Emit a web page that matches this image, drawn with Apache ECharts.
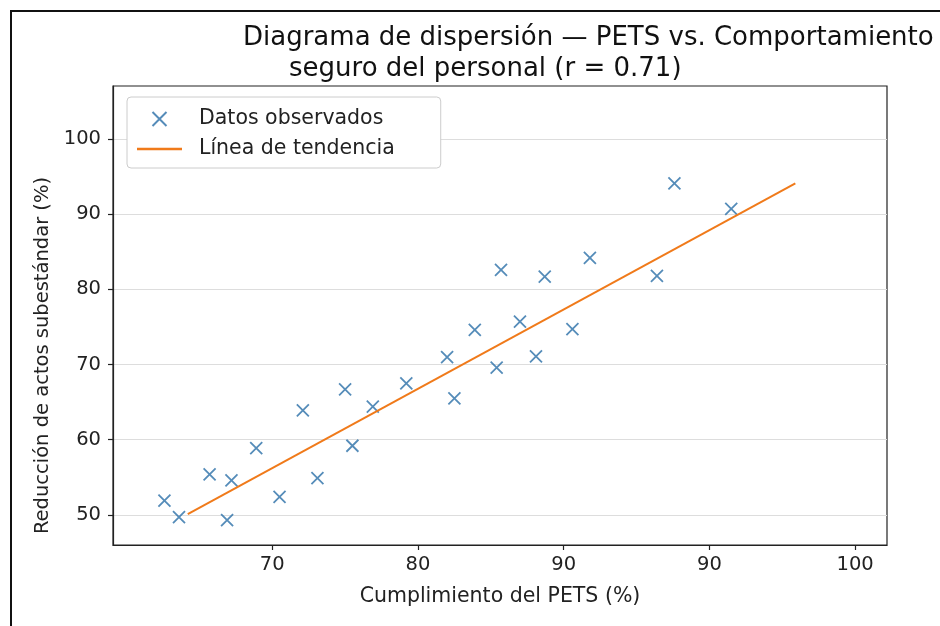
<!DOCTYPE html>
<html><head><meta charset="utf-8">
<script src="https://cdn.jsdelivr.net/npm/echarts@6/dist/echarts.min.js"></script>
<style>html,body{margin:0;padding:0;background:#fff}#c{width:940px;height:626px}</style>
</head><body><div id="c"></div>
<script>
// Observed data (PETS compliance %, reduction of substandard acts %)
const pets = [62.6, 63.6, 65.7, 67.2, 66.9, 68.9, 70.5, 72.1, 73.1, 75.0, 76.9, 75.5, 79.2, 82.5, 82.0, 83.9, 85.4, 85.7, 87.0, 88.1, 88.7, 90.6, 91.8, 96.4, 97.6, 101.5];
const reduccion = [51.9, 49.7, 55.4, 54.6, 49.3, 58.9, 52.4, 63.9, 54.9, 66.7, 64.4, 59.2, 67.5, 65.5, 71.0, 74.6, 69.6, 82.6, 75.7, 71.1, 81.7, 74.7, 84.2, 81.8, 94.1, 90.7];
// Trend line endpoints
const trendX = [64.2, 105.9];
const trendY = [50.1, 94.1];
// Axis ticks
const xTickValues = [70, 80, 90, 100, 110];
const xTickLabels = ['70', '80', '90', '90', '100'];
const yTickValues = [50, 60, 70, 80, 90, 100];
const yTickLabels = ['50', '60', '70', '80', '90', '100'];

const FONT = 'DejaVu Sans';
const INK = '#222';
const BLUE = '#2a6fa8';
const ORANGE = '#f07a1a';
const CROSS = 'path://M0,0L10,10M10,0L0,10';
const LINE_ICON = 'path://M0,0L45,0L45,2.6L0,2.6Z';

const chart = echarts.init(document.getElementById('c'), null, {renderer: 'canvas'});
chart.setOption({
  backgroundColor: '#fff',
  animation: false,
  textStyle: {fontFamily: FONT},
  title: [
    {text: 'Diagrama de dispersión — PETS vs. Comportamiento', left: 238, top: 20,
     textStyle: {fontFamily: FONT, fontSize: 26, fontWeight: 'normal', color: '#111'}},
    {text: 'seguro del personal (r = 0.71)', left: 284, top: 51,
     textStyle: {fontFamily: FONT, fontSize: 26, fontWeight: 'normal', color: '#111'}}
  ],
  graphic: [
    {type: 'rect', silent: true, z: 100,
     shape: {x: 11, y: 11, width: 1200, height: 1200},
     style: {fill: 'none', stroke: '#111', lineWidth: 2}}
  ],
  legend: {
    left: 127, top: 97, orient: 'vertical',
    padding: [11, 46, 8, 10],
    itemWidth: 45, itemHeight: 14, itemGap: 8,
    backgroundColor: '#fff', borderColor: '#cccccc', borderWidth: 1, borderRadius: 4,
    textStyle: {fontFamily: FONT, fontSize: 20.5, color: INK, lineHeight: 22, padding: [0, 0, 0, 12]},
    data: [
      {name: 'Datos observados', icon: CROSS},
      {name: 'Línea de tendencia', icon: LINE_ICON, itemStyle: {color: ORANGE, borderWidth: 0}}
    ]
  },
  grid: {left: 113, right: 53, top: 86, bottom: 81, show: true,
         borderColor: INK, borderWidth: 1.2, backgroundColor: '#fff'},
  xAxis: {
    type: 'value', min: 59.07, max: 112.19,
    axisLine: {show: true, lineStyle: {color: INK, width: 1.2}},
    axisTick: {show: true, length: 5, customValues: xTickValues, lineStyle: {color: INK, width: 1.2}},
    axisLabel: {customValues: xTickValues, margin: 10, fontSize: 19.5, color: INK, fontFamily: FONT,
                formatter: v => xTickLabels[xTickValues.indexOf(v)]},
    splitLine: {show: false},
    name: 'Cumplimiento del PETS (%)', nameLocation: 'middle', nameGap: 41,
    nameTextStyle: {fontSize: 20.5, color: INK, fontFamily: FONT}
  },
  yAxis: {
    type: 'value', min: 46.0, max: 107.05, splitNumber: 6,
    axisLine: {show: true, lineStyle: {color: INK, width: 1.2}},
    axisTick: {show: true, length: 5, customValues: yTickValues, lineStyle: {color: INK, width: 1.2}},
    axisLabel: {customValues: yTickValues, margin: 12, fontSize: 19.5, color: INK, fontFamily: FONT,
                formatter: v => yTickLabels[yTickValues.indexOf(v)]},
    splitLine: {show: true, lineStyle: {color: '#dddddd', width: 1.2}},
    name: 'Reducción de actos subestándar (%)', nameLocation: 'middle', nameGap: 52,
    nameTextStyle: {fontSize: 19.5, color: INK, fontFamily: FONT, padding: [0, 80, 0, 0]}
  },
  series: [
    {
      name: 'Datos observados', type: 'scatter', z: 3,
      symbol: CROSS, symbolSize: 12,
      itemStyle: {color: 'rgba(0,0,0,0)', borderColor: BLUE, borderWidth: 1.8},
      data: pets.map((x, i) => [x, reduccion[i]])
    },
    {
      name: 'Línea de tendencia', type: 'line', z: 4,
      showSymbol: false, symbol: 'none',
      lineStyle: {color: ORANGE, width: 2},
      itemStyle: {color: ORANGE},
      data: trendX.map((x, i) => [x, trendY[i]])
    }
  ]
});
</script>
</body></html>
